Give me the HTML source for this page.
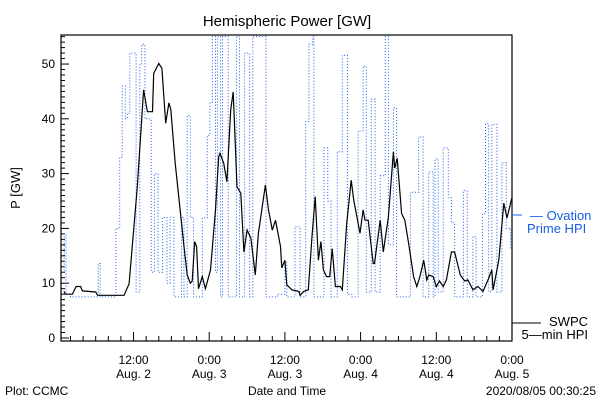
<!DOCTYPE html>
<html><head><meta charset="utf-8"><style>
body{margin:0;background:#fff}
svg{display:block;font-family:"Liberation Sans",sans-serif}
</style></head><body>
<svg id="chart" width="600" height="400" viewBox="0 0 600 400">
<rect width="600" height="400" fill="#fff"/>
<text x="287" y="26" font-size="15" text-anchor="middle">Hemispheric Power [GW]</text>
<text x="20" y="188" font-size="13" text-anchor="middle" transform="rotate(-90 20 188)">P [GW]</text>
<text x="287" y="395" font-size="12" text-anchor="middle">Date and Time</text>
<text x="5" y="395" font-size="12">Plot: CCMC</text>
<text x="596" y="395" font-size="12" text-anchor="end">2020/08/05 00:30:25</text>
<g id="axes"></g>
<g id="series"></g>
<g>
<line x1="512" y1="215" x2="522" y2="215" stroke="#1a5ce6" stroke-width="1"/>
<text x="530" y="220" font-size="13" fill="#1a5ce6">— Ovation</text>
<text x="527" y="233" font-size="13" fill="#1a5ce6">Prime HPI</text>
</g>
<g>
<line x1="512" y1="323" x2="541" y2="323" stroke="#000" stroke-width="1"/>
<text x="588" y="326" font-size="13" text-anchor="end">SWPC</text>
<text x="588" y="339" font-size="13" text-anchor="end">5—min HPI</text>
</g>
</svg>
<script>
const swpcHours=[0.97,1.2,2.3,2.9,3.6,3.9,6.0,6.3,10.5,11.3,12.6,13.6,14.2,15.0,15.2,16.0,16.5,17.1,17.6,17.9,18.6,20.0,20.5,21.0,21.3,21.7,22.0,22.3,22.9,23.4,24.2,25.0,25.5,25.7,26.3,26.8,27.4,27.8,28.4,29.0,29.5,30.0,30.6,31.3,31.8,32.9,33.4,34.0,34.5,34.8,35.3,35.5,36.0,36.3,37.1,38.2,38.4,39.0,39.7,40.3,40.8,41.3,41.7,42.1,42.6,43.1,43.5,44.0,44.8,45.1,45.8,46.5,46.9,47.9,48.4,48.7,49.2,50.0,50.2,51.1,51.6,52.4,53.2,53.4,53.8,54.5,55.0,55.6,56.4,56.9,57.4,58.0,58.5,58.8,59.5,60.0,60.5,61.1,61.6,62.4,62.9,63.8,64.5,65.0,65.8,66.6,67.4,68.2,68.8,69.0,69.9,70.7,71.2,71.9,72.0];
const swpcValues=[8.5,8,8,9.4,9.4,8.6,8.4,7.8,7.8,9.9,27.6,45.3,41.3,41.3,48.3,50.1,49.2,39.2,42.9,41.7,31.9,16.7,11.5,10,10.4,17.6,16.7,9,11.2,9,12.4,23.4,33.1,33.7,31.9,28.5,41.6,44.9,27.6,26.4,15.7,19.7,18.2,11.5,19.1,27.9,23.4,19.7,21.5,19.7,16.7,12.8,14.2,9.7,8.8,8.5,7.8,8.5,8.8,18.5,25.8,14.2,17.6,12.4,11.2,11.2,16.3,9.4,9.4,8.8,20.9,28.8,25.2,19.1,23.4,21.5,21.5,13.6,13.6,21.5,15.7,22.1,34,31,32.8,22.7,21.5,17.3,11.2,9.4,11.2,14.2,10.6,11.5,11.2,9.4,10.4,9.4,10.6,15.7,15.7,11.5,10.4,10.6,8.8,9.4,8.5,10.6,12.4,8.8,14.2,24.6,21.9,25.2,24.9];
const ovHours=[0.8,1.0,1.3,2,5,6.2,6.4,6.7,8.6,9.2,9.8,10.2,10.7,11.0,11.4,11.8,12.4,13.0,13.3,13.8,14.5,14.8,15.3,15.9,16.6,17.3,17.8,18.4,19.6,20.0,20.5,21.0,21.5,22.3,22.9,23.7,24.1,24.5,25.0,25.3,25.8,26.1,26.4,27.0,27.6,28.3,28.8,29.6,30.4,30.9,31.8,32.4,33.0,33.8,34.8,35.3,36.0,36.3,37.6,38.4,39.3,39.8,40.4,40.6,41.7,42.2,42.8,43.3,44.3,45.1,45.9,46.6,47.6,48.4,48.9,49.7,50.3,51.1,51.9,52.4,53.2,53.7,54.8,55.9,57.2,57.9,58.8,59.5,59.8,60.3,61.1,61.9,62.4,62.9,63.6,64.3,64.9,65.8,66.3,67.3,67.8,68.3,68.8,69.6,70.4,71.1,71.8];
const ovValues=[12,19,8,7.5,7.5,7.5,13.6,7.5,7.5,20,33,46,40,41,52,52,8.4,50,53.6,40,40,12,30,12,22,10,22,7.5,22,7.5,40.6,22,7.5,7.5,21.9,37,43,55,12,55,7.5,55,55,7.5,7.5,55,7.5,52,7.5,55,55,55,7.5,7.5,8,8,14,7.5,20.3,7.5,39.5,53.6,55,7.5,7.5,34.7,25,7.5,34,51.6,8,7.5,37.8,49.6,8.4,43.6,8.4,29.6,55,17,42,7.5,7.5,26.6,36.7,7.5,30.3,7.5,32.7,8.4,34.7,25.6,21,7.5,7.5,26.9,7.5,18.5,7.5,22.7,39.1,8.4,39,8.4,32,20,16];
const yMajorTicks=[0,10,20,30,40,50];
const xMajorTickHours=[12,24,36,48,60,72];
const xTickTimes=["12:00","0:00","12:00","0:00","12:00","0:00"];
const xTickDates=["Aug. 2","Aug. 3","Aug. 3","Aug. 4","Aug. 4","Aug. 5"];

const X0=61,X1=512,Y0=35,Y1=341;
const hMin=0.5,hMax=72,vMin=-0.55,vMax=55.3;
const xs=h=>X0+(h-hMin)/(hMax-hMin)*(X1-X0);
const ys=v=>Y1-(v-vMin)/(vMax-vMin)*(Y1-Y0);
const NS="http://www.w3.org/2000/svg";
function mk(tag,attrs,parent){const e=document.createElementNS(NS,tag);for(const k in attrs)e.setAttribute(k,attrs[k]);parent.appendChild(e);return e;}
const axes=document.getElementById('axes'),series=document.getElementById('series');

const frame=mk('rect',{x:X0,y:Y0,width:X1-X0,height:Y1-Y0,fill:'none',stroke:'#000','stroke-width':1.2},axes);


for(let v=0;v<=55;v++){
  const major=v%10===0;const y=ys(v);
  const t=mk('line',{x1:X0,x2:X0+(major?8:4),y1:y,y2:y,stroke:'#000'},axes);
  
  
}
yMajorTicks.forEach(v=>{
  const t=mk('text',{x:X0-6,y:ys(v)+4,'font-size':12,'text-anchor':'end'},axes);t.textContent=v;
  
  
});
for(let h=2;h<=72;h+=2){
  const major=h%12===0;const x=xs(h);
  const t=mk('line',{x1:x,x2:x,y1:Y1,y2:Y1-(major?9:5),stroke:'#000'},axes);
  
  
}
xMajorTickHours.forEach((h,i)=>{
  const a=mk('text',{x:xs(h),y:364,'font-size':12,'text-anchor':'middle'},axes);a.textContent=xTickTimes[i];
  
  
  const b=mk('text',{x:xs(h),y:378,'font-size':12,'text-anchor':'middle'},axes);b.textContent=xTickDates[i];
  
  
});
let ovPts=[];
ovHours.forEach((h,i)=>{
  const x=xs(h).toFixed(1), y=ys(Math.min(ovValues[i],55.2)).toFixed(1);
  if(i>0){ovPts.push(x+','+ys(Math.min(ovValues[i-1],55.2)).toFixed(1));}
  ovPts.push(x+','+y);
});
const ov=mk('polyline',{points:ovPts.join(' '),fill:'none',stroke:'#1a5ce6','stroke-width':1,'stroke-dasharray':'1,2'},series);


const swPts=swpcHours.map((h,i)=>xs(h).toFixed(1)+','+ys(swpcValues[i]).toFixed(1)).join(' ');
const sw=mk('polyline',{points:swPts,fill:'none',stroke:'#000','stroke-width':1.2},series);


</script>
</body></html>
